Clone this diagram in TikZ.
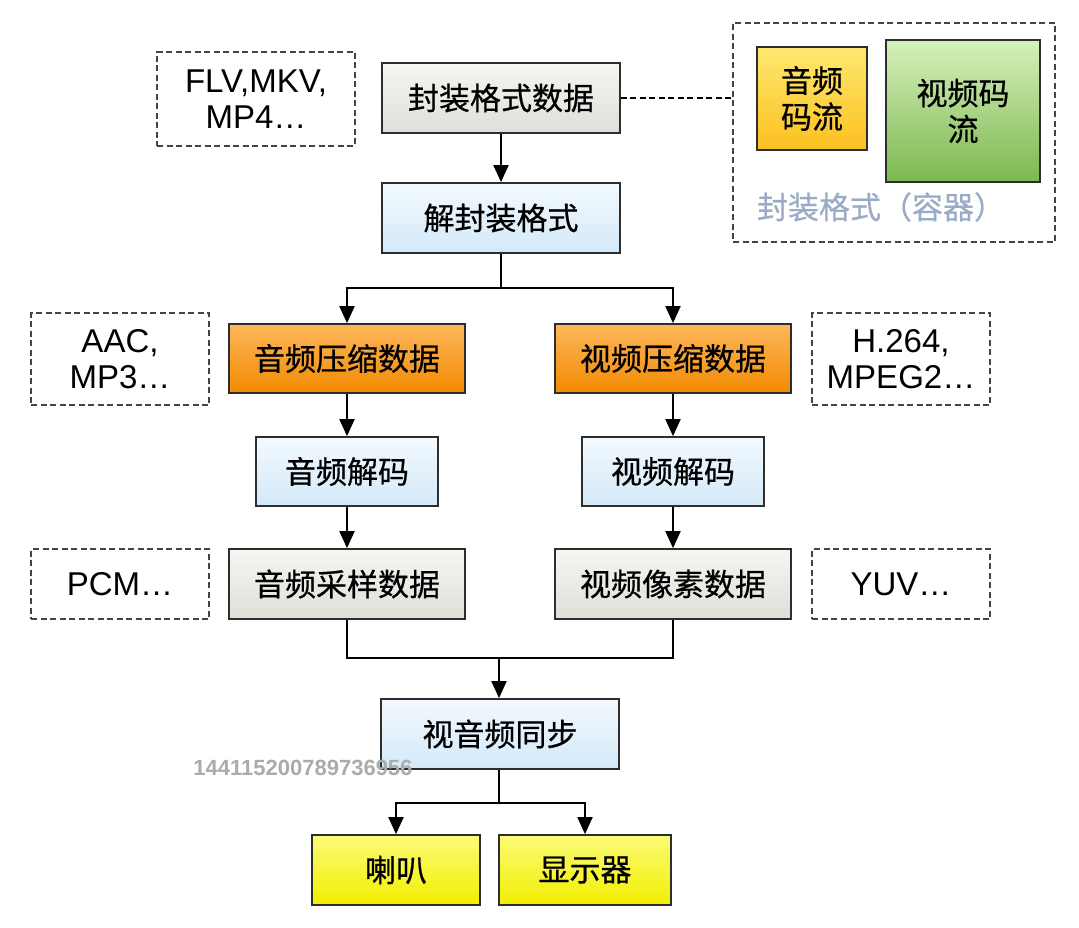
\documentclass[tikz,border=0pt]{standalone}
\usepackage{fontspec}
\setmainfont{Liberation Sans}
\newfontfamily\cjk[FakeBold=0.6]{Noto Sans CJK SC}
\usetikzlibrary{arrows.meta}
\definecolor{edge}{HTML}{2E2E2E}
\definecolor{noteedge}{HTML}{444444}
\definecolor{graytop}{HTML}{F6F6F3}
\definecolor{graybot}{HTML}{DCE0D8}
\definecolor{bluetop}{HTML}{F3F9FE}
\definecolor{bluebot}{HTML}{D3E9F8}
\definecolor{orangetop}{HTML}{FDB75C}
\definecolor{orangebot}{HTML}{F28A00}
\definecolor{yeltop}{HTML}{FBFB78}
\definecolor{yelbot}{HTML}{F2EE00}
\definecolor{astop}{HTML}{FEE870}
\definecolor{asbot}{HTML}{FBC020}
\definecolor{vstop}{HTML}{D6F0BC}
\definecolor{vsbot}{HTML}{7CB84F}
\definecolor{contlabel}{HTML}{9AABC6}
\definecolor{wm}{HTML}{ABABAB}
\tikzset{
  procbox/.style={draw=edge, line width=1.7pt, inner sep=0pt, align=center,
    font=\cjk\fontsize{31}{36}\selectfont},
  graybox/.style={procbox, top color=graytop, bottom color=graybot},
  bluebox/.style={procbox, top color=bluetop, bottom color=bluebot},
  orangebox/.style={procbox, top color=orangetop, bottom color=orangebot},
  yellowbox/.style={procbox, top color=yeltop, bottom color=yelbot},
  notebox/.style={draw=noteedge, line width=1.5pt, dash pattern=on 6pt off 3.5pt,
    inner sep=0pt, align=center, font=\fontsize{33}{36}\selectfont},
  arr/.style={draw=black, line width=1.9pt, -{Triangle[length=17pt,width=15pt]}},
  conn/.style={draw=black, line width=1.9pt},
}
\begin{document}
\begin{tikzpicture}[x=1pt,y=-1pt]
\useasboundingbox (0,0) rectangle (1079,928);
\fill[white] (0,0) rectangle (1079,928);

% main column
\node[graybox, minimum width=238pt, minimum height=70pt] (fmt) at (501,98) {封装格式数据};
\node[bluebox, minimum width=238pt, minimum height=70pt] (demux) at (501,218) {解封装格式};
\node[orangebox, minimum width=236pt, minimum height=69pt] (acomp) at (347,358.5) {音频压缩数据};
\node[orangebox, minimum width=236pt, minimum height=69pt] (vcomp) at (673,358.5) {视频压缩数据};
\node[bluebox, minimum width=182pt, minimum height=69pt] (adec) at (347,471.5) {音频解码};
\node[bluebox, minimum width=182pt, minimum height=69pt] (vdec) at (673,471.5) {视频解码};
\node[graybox, minimum width=236pt, minimum height=70pt] (asamp) at (347,584) {音频采样数据};
\node[graybox, minimum width=236pt, minimum height=70pt] (vsamp) at (673,584) {视频像素数据};
\node[bluebox, minimum width=238pt, minimum height=70pt] (sync) at (500,734) {视音频同步};
\node[yellowbox, minimum width=168pt, minimum height=70pt] (spk) at (396,870) {喇叭};
\node[yellowbox, minimum width=172pt, minimum height=70pt] (disp) at (585,870) {显示器};

% notes
\node[notebox, minimum width=198pt, minimum height=94pt] (nfmt) at (256,99) {FLV,MKV,\\MP4…};
\node[notebox, minimum width=178pt, minimum height=92pt] (naud) at (120,359) {AAC,\\MP3…};
\node[notebox, minimum width=178pt, minimum height=92pt] (nvid) at (901,359) {H.264,\\MPEG2…};
\node[notebox, minimum width=178pt, minimum height=70pt] (npcm) at (120,584) {PCM…};
\node[notebox, minimum width=178pt, minimum height=70pt] (nyuv) at (901,584) {YUV…};

% container
\node[notebox, minimum width=322pt, minimum height=219pt] (cont) at (894,132.5) {};
\node[procbox, top color=astop, bottom color=asbot, minimum width=110pt, minimum height=103pt] (astream) at (812,98.5) {音频\\码流};
\node[procbox, top color=vstop, bottom color=vsbot, minimum width=154pt, minimum height=142pt] (vstream) at (963,111) {视频码\\流};
\node[text=contlabel, font=\cjk\fontsize{31}{36}\selectfont, inner sep=0pt] (contlbl) at (881,207) {封装格式（容器）};

\draw[conn, dash pattern=on 6pt off 3.5pt, line width=1.5pt] (fmt.east) -- (fmt.east -| cont.west);

% connectors
\draw[arr] (fmt) -- (demux);
\draw[conn] (demux.south) -- ++(0,34) coordinate (sp1);
\draw[arr] (sp1) -| (acomp.north);
\draw[arr] (sp1) -| (vcomp.north);
\draw[arr] (acomp) -- (adec);
\draw[arr] (vcomp) -- (vdec);
\draw[arr] (adec) -- (asamp);
\draw[arr] (vdec) -- (vsamp);
\coordinate (mj) at (499,658);
\draw[conn] (asamp.south) |- (mj) -| (vsamp.south);
\draw[arr] (mj) -- (mj |- sync.north);
\coordinate (sp2) at (499,803);
\draw[conn] (sync.south -| sp2) -- (sp2);
\draw[arr] (sp2) -| (spk.north);
\draw[arr] (sp2) -| (disp.north);

% watermark
\node[text=wm, font=\bfseries\fontsize{22}{24}\selectfont, inner sep=0pt] (wmark) at (303,768) {144115200789736956};
\end{tikzpicture}
\end{document}
